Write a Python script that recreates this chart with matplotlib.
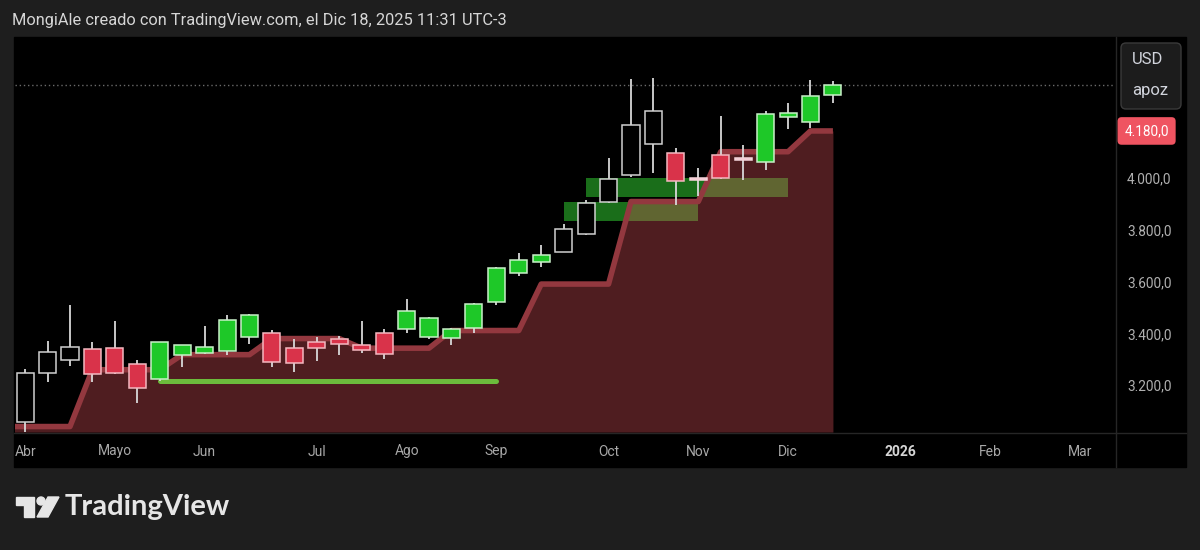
#!/usr/bin/env python3
"""
GC1! semanal (COMEX) - captura estilo TradingView, recreada con matplotlib.
"""

import numpy as np
import matplotlib.pyplot as plt
from matplotlib.patches import Rectangle, FancyBboxPatch, Polygon, Circle
from matplotlib.ticker import FuncFormatter
import matplotlib.transforms as mtransforms

plt.rcParams['font.family'] = ['Roboto', 'DejaVu Sans']

# ---------------------------------------------------------------
# Datos (velas semanales, semana 0 = 7 abr 2025)
# ---------------------------------------------------------------
weeks = np.arange(37)
opens = [3059, 3247, 3299, 3338, 3343, 3282, 3224, 3316, 3325, 3334,
         3386, 3401, 3343, 3367, 3378, 3356, 3401, 3416, 3386, 3382,
         3419, 3519, 3632, 3675, 3715, 3783, 3905, 4009, 4128, 4095,
         4000, 4087, 4077, 4061, 4232, 4215, 4318]
highs = [3264, 3372, 3510, 3367, 3447, 3297, 3366, 3356, 3429, 3469,
         3475, 3414, 3378, 3385, 3390, 3449, 3416, 3533, 3465, 3420,
         3518, 3655, 3710, 3740, 3821, 3914, 4076, 4380, 4384, 4114,
         4038, 4238, 4124, 4255, 4286, 4376, 4371]
lows = [3021, 3212, 3275, 3212, 3245, 3130, 3215, 3272, 3322, 3315,
        3359, 3272, 3253, 3294, 3317, 3326, 3302, 3401, 3378, 3356,
        3401, 3510, 3623, 3657, 3712, 3780, 3903, 4001, 4017, 3894,
        3929, 3995, 3990, 4031, 4186, 4190, 4286]
closes = [3248, 3329, 3347, 3243, 3247, 3189, 3366, 3356, 3347, 3452,
          3471, 3288, 3285, 3343, 3359, 3337, 3321, 3488, 3459, 3416,
          3514, 3651, 3683, 3701, 3804, 3901, 3993, 4203, 4256, 3987,
          3991, 3997, 4069, 4245, 4249, 4315, 4356]
# w = hueca blanca, g = verde, r = roja, p = rosa (doji)
kinds = ['w', 'w', 'w', 'r', 'r', 'r', 'g', 'g', 'g', 'g',
         'g', 'r', 'r', 'r', 'r', 'r', 'r', 'g', 'g', 'g',
         'g', 'g', 'g', 'g', 'w', 'w', 'w', 'w', 'w', 'r',
         'p', 'r', 'p', 'g', 'g', 'g', 'g']

# Línea escalonada (stop) con su área
stop_weeks = np.arange(-1, 37)
stop_vals = [3041, 3041, 3041, 3041, 3260, 3260, 3260, 3260, 3318, 3318,
             3318, 3318, 3380, 3380, 3380, 3380, 3343, 3343, 3343, 3343,
             3411, 3411, 3411, 3411, 3590, 3590, 3590, 3590, 3908, 3908,
             3908, 3908, 4100, 4100, 4100, 4100, 4180, 4180]

# Zonas verdes (semana inicio, semana fin, precio bajo, precio alto)
box_start = [25, 24]
box_end = [34, 30]
box_low = [3926, 3832]
box_high = [3998, 3906]

# Línea de soporte verde
support_start, support_end, support_level = 6, 21, 3216

tick_pos = [0, 4, 8, 13, 17, 21, 26, 30, 34, 39, 43, 47]
tick_labels = ['Abr', 'Mayo', 'Jun', 'Jul', 'Ago', 'Sep', 'Oct', 'Nov',
               'Dic', '2026', 'Feb', 'Mar']
# 4.200 y 4.400 quedan tapados por la etiqueta roja y la caja USD
price_ticks = [3200, 3400, 3600, 3800, 4000]

# Colores
BG = '#1e1e1e'
FILL = {'w': '#000000', 'g': '#1ec828', 'r': '#d9334a', 'p': '#f0b8c4'}
EDGE = {'w': '#d0d0d0', 'g': '#c8f0c8', 'r': '#f4b8c0', 'p': '#f6d6dc'}


def fmt_price(v, pos=None):
    """4000 -> '4.000,0' (formato español)."""
    s = f"{v:,.1f}"
    return s.replace(",", "X").replace(".", ",").replace("X", ".")


def main():
    fig = plt.figure(figsize=(12, 5.5), dpi=100, facecolor=BG)

    # --- fondo / panel (coordenadas en píxeles) ---
    bg = fig.add_axes([0, 0, 1, 1], zorder=0)
    bg.set_xlim(0, 1200)
    bg.set_ylim(550, 0)
    bg.axis('off')
    bg.add_patch(Rectangle((14, 37), 1172, 430, color='black'))
    bg.plot([1115.5, 1115.5], [37, 467], color='#262626', lw=1)
    bg.plot([14, 1186], [432.5, 432.5], color='#262626', lw=1)

    bg.text(12, 21, "MongiAle creado con TradingView.com, el Dic 18, 2025 11:31 UTC-3",
            color='#d6d6d6', fontsize=11.8, va='center', ha='left')
    bg.text(25, 58, "GC1! · 1S · COMEX", color='#b8b8b8', fontsize=11.5,
            va='center', ha='left')
    bg.text(170, 58, "4.368,7  −5,2 (−0,12%)", color='#e6e6e6', fontsize=11.5,
            va='center', ha='left')

    # logo TradingView
    logo_c = '#e6e6e6'
    bg.add_patch(Polygon([(16, 497), (34, 497), (34, 517), (24, 517), (24, 505), (16, 505)],
                         closed=True, color=logo_c))
    bg.add_patch(Circle((41, 501), 4, color=logo_c))
    bg.add_patch(Polygon([(48, 497), (59, 497), (48, 517), (37, 517)], closed=True, color=logo_c))
    bg.text(65, 507, "TradingView", color=logo_c, fontsize=21, fontweight='bold',
            family=['Lato', 'DejaVu Sans'], va='center', ha='left')

    # --- gráfico principal ---
    ax = fig.add_axes([15 / 1200, (550 - 432) / 550, 1100 / 1200, 395 / 550], zorder=1)
    ax.set_facecolor('black')
    for sp in ax.spines.values():
        sp.set_visible(False)
    ax.set_xlim(-0.45, 48.57)
    ax.set_ylim(3020, 4542)

    # zonas verdes (debajo del área roja)
    for x0, x1, lo, hi in zip(box_start, box_end, box_low, box_high):
        ax.add_patch(Rectangle((x0, lo), x1 - x0, hi - lo, facecolor='#1a6e1a',
                               edgecolor='none', zorder=1))

    # área + línea del stop
    ax.fill_between(stop_weeks, stop_vals, 3020, color='#e5565e', alpha=0.35,
                    linewidth=0, zorder=2)
    ax.plot(stop_weeks, stop_vals, color='#93383f', lw=4, solid_joinstyle='round',
            solid_capstyle='butt', zorder=3)

    # soporte verde
    ax.plot([support_start, support_end], [support_level, support_level],
            color='#6cbb3c', lw=3.6, solid_capstyle='round', zorder=4)

    # precio actual (línea punteada)
    ax.axhline(closes[-1], color='#6a6a6a', lw=1, ls=(0, (1, 2)), zorder=2)

    # velas
    o = np.array(opens)
    c = np.array(closes)
    body_lo = np.minimum(o, c)
    body_h = np.maximum(np.abs(c - o), 2)
    ax.vlines(weeks, lows, highs, color='#d8d8d8', lw=1.3, zorder=5)
    ax.bar(weeks, body_h, bottom=body_lo, width=0.76,
           color=[FILL[k] for k in kinds], edgecolor=[EDGE[k] for k in kinds],
           linewidth=1.1, zorder=6)

    # ejes
    ax.yaxis.tick_right()
    ax.set_yticks(price_ticks)
    ax.yaxis.set_major_formatter(FuncFormatter(fmt_price))
    ax.tick_params(axis='y', length=0, pad=8.6, labelsize=9.8, labelcolor='#b0b0b0')
    ax.set_xticks(tick_pos)
    ax.set_xticklabels(tick_labels)
    ax.tick_params(axis='x', length=0, pad=9, labelsize=10, labelcolor='#a8a8a8')
    for lab in ax.get_xticklabels():
        if lab.get_text() == '2026':
            lab.set_fontweight('bold')
            lab.set_color('#d6d6d6')

    # etiqueta del valor del stop
    trans = mtransforms.blended_transform_factory(ax.transAxes, ax.transData)
    ax.text(1.0085, stop_vals[-1], fmt_price(stop_vals[-1]), transform=trans,
            ha='left', va='center', color='white', fontsize=9.8, zorder=10,
            bbox=dict(boxstyle='round,pad=0.5,rounding_size=0.3', fc='#ef5461', ec='none'),
            clip_on=False)

    # --- capa superior: caja USD ---
    fg = fig.add_axes([0, 0, 1, 1], zorder=2)
    fg.set_xlim(0, 1200)
    fg.set_ylim(550, 0)
    fg.axis('off')
    fg.add_patch(FancyBboxPatch((1121, 43), 60, 66, boxstyle='round,pad=0,rounding_size=5',
                                fc='#1c1c1c', ec='#3a3a3a', lw=1))
    fg.text(1148, 59, "USD", color='#d1d4dc', fontsize=12, ha='center', va='center')
    fg.text(1150, 91, "apoz", color='#d1d4dc', fontsize=12, ha='center', va='center')

    fig.savefig('out.png', dpi=100, facecolor=fig.get_facecolor())


if __name__ == "__main__":
    main()
